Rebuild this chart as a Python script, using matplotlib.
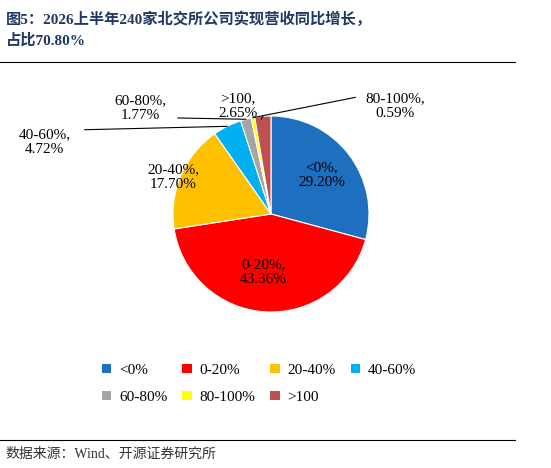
import numpy as np
import matplotlib.pyplot as plt
from matplotlib.patches import Patch

plt.rcParams['font.family'] = ['Liberation Serif', 'Noto Sans CJK SC']

labels = ['<0%', '0-20%', '20-40%', '40-60%', '60-80%', '80-100%', '>100']
values = [29.20, 43.36, 17.70, 4.72, 1.77, 0.59, 2.65]
colors = ['#1F6FC0', '#FF0000', '#FFC000', '#00B0F0', '#A5A5A5', '#FFFF00', '#C0504D']

fig = plt.figure(figsize=(5.51, 4.68), dpi=100)
ax = fig.add_axes([0, 0, 1, 1])

wedges, _ = ax.pie(values, colors=colors, startangle=90, counterclock=False,
                   radius=1.0, wedgeprops=dict(edgecolor='white', linewidth=0.8))
ax.set_xlim(-271 / 98, 280 / 98)
ax.set_ylim(-254 / 98, 214 / 98)
ax.set_aspect('equal')
ax.axis('off')

# labels inside the big slices
inside = {0: (0.52, 0.40), 1: (-0.08, -0.59), 2: (-1.0, 0.38)}
for i, (x, y) in inside.items():
    ax.text(x, y, f'{labels[i]},\n{values[i]:.2f}%', ha='center', va='center', fontsize=11)

# outside labels with leader lines
outside = {3: (-2.31, 0.73), 4: (-1.337, 1.08), 5: (1.265, 1.10), 6: (-0.337, 1.10)}
for i, (x, y) in outside.items():
    w = wedges[i]
    ang = np.deg2rad((w.theta1 + w.theta2) / 2)
    px, py = np.cos(ang), np.sin(ang)
    ax.text(x, y, f'{labels[i]},\n{values[i]:.2f}%', ha='center', va='center', fontsize=11)
    if i == 3:
        ax.plot([-1.9, px], [0.86, py], color='black', lw=0.8)
    elif i == 5:
        ax.plot([0.86, px], [1.19, py], color='black', lw=0.8)
    elif i == 4:
        ax.plot([-0.95, px], [0.98, py], color='black', lw=0.8)
    else:
        ax.plot([-0.1, px], [0.97, py], color='black', lw=0.8)

# legend, row-major order
order = [0, 4, 1, 5, 2, 6, 3]
handles = [Patch(facecolor=colors[i], label=labels[i]) for i in order]
fig.legend(handles=handles, ncol=4, loc='center', bbox_to_anchor=(0.47, 0.18),
           frameon=False, fontsize=11, handlelength=0.6, handleheight=0.6,
           handletextpad=0.5, columnspacing=1.0, labelspacing=0.9)

fig.text(0.01, 0.975, '图5：2026上半年240家北交所公司实现营收同比增长，\n占比70.80%',
         ha='left', va='top', fontsize=11, fontweight='bold', color='#1F3864',
         linespacing=1.5)
fig.add_artist(plt.Line2D([0, 0.935], [0.868, 0.868], color='black', lw=0.8))
fig.add_artist(plt.Line2D([0, 0.935], [0.06, 0.06], color='black', lw=0.8))
fig.text(0.01, 0.03, '数据来源：Wind、开源证券研究所', ha='left', va='center',
         fontsize=10, color='#333333')

fig.savefig('out.png', dpi=100)
